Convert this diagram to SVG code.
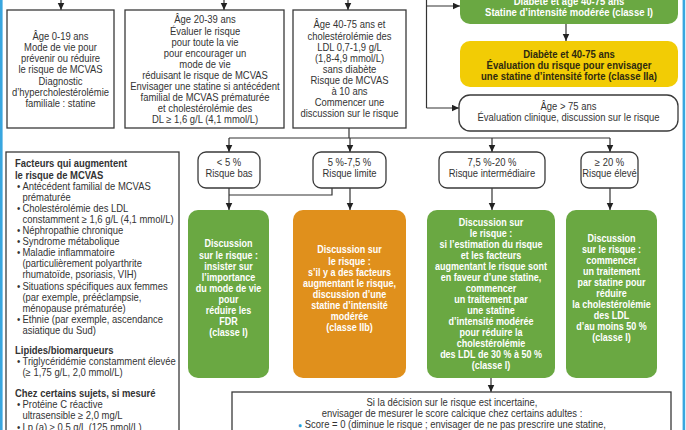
<svg xmlns="http://www.w3.org/2000/svg" width="686" height="430" viewBox="0 0 686 430">
<defs>
<style>
.box{fill:#fff;stroke:#3a3a3a;stroke-width:1.3}
.rbox{fill:#fff;stroke:#3a3a3a;stroke-width:1.3}
.green{fill:#6aa842}
.orange{fill:#e0901c}
.yellow{fill:#f2cc05}
.t{font-family:"Liberation Sans",Arial,sans-serif;font-size:10.5px;fill:#333;text-anchor:middle}
.hb{font-weight:bold}
.w{font-family:"Liberation Sans",Arial,sans-serif;font-size:10px;font-weight:bold;fill:#fff;text-anchor:middle}
.wt{font-family:"Liberation Sans",Arial,sans-serif;font-size:10.6px;font-weight:bold;fill:#fff;text-anchor:middle}
.yt{font-family:"Liberation Sans",Arial,sans-serif;font-size:10.6px;font-weight:bold;fill:#2e2a10;text-anchor:middle}
.l{font-family:"Liberation Sans",Arial,sans-serif;font-size:10.5px;fill:#333;text-anchor:start}
.con{fill:none;stroke:#333;stroke-width:1.2}
.arr{fill:none;stroke:#333;stroke-width:1.2;marker-end:url(#ah)}
</style>
<marker id="ah" markerUnits="userSpaceOnUse" markerWidth="8" markerHeight="8" refX="7.5" refY="3.5" orient="auto">
<path d="M0,0 L7.5,3.5 L0,7 z" fill="#222"/>
</marker>
</defs>
<rect x="0" y="0" width="686" height="430" fill="#fff"/>
<rect x="0" y="0" width="2.6" height="430" fill="#39a6df"/>
<rect x="682.6" y="0" width="2.6" height="430" fill="#39a6df"/>

<g id="connectors">
<path class="arr" d="M61,0 V10"/>
<path class="arr" d="M224,0 V10"/>
<path class="arr" d="M348,0 V10"/>
<path class="con" d="M426.5,0 V108"/>
<path class="arr" d="M426.5,6 H460"/>
<path class="arr" d="M426.5,108 H459"/>
<path class="arr" d="M566,24 V41"/>
<path class="con" d="M349,128 V138 M229,138 H610"/>
<path class="arr" d="M229,138 V152"/>
<path class="arr" d="M350,138 V152"/>
<path class="arr" d="M492,138 V152"/>
<path class="arr" d="M610,138 V152"/>
<path class="con" d="M332,188 V195 H229"/>
<path class="arr" d="M229,188 V210"/>
<path class="arr" d="M350,188 V210"/>
<path class="arr" d="M492,188 V210"/>
<path class="arr" d="M610,188 V210"/>
<path class="arr" d="M491,378 V392"/>
</g>

<g id="age0-19">
<rect class="box" x="7" y="10" width="107" height="118"/>
<g transform="translate(60.5,0) scale(0.9,1)">
<text class="t" x="0" y="40.2">Âge 0-19 ans</text>
<text class="t" x="0" y="51.3">Mode de vie pour</text>
<text class="t" x="0" y="62.4">prévenir ou réduire</text>
<text class="t" x="0" y="73.5">le risque de MCVAS</text>
<text class="t" x="0" y="84.6">Diagnostic</text>
<text class="t" x="0" y="95.7">d’hypercholestérolémie</text>
<text class="t" x="0" y="106.8">familiale : statine</text>
</g>
</g>

<g id="age20-39">
<rect class="box" x="125" y="10" width="159" height="118"/>
<g transform="translate(205,0) scale(0.9,1)">
<text class="t" x="0" y="23.5">Âge 20-39 ans</text>
<text class="t" x="0" y="34.6">Évaluer le risque</text>
<text class="t" x="0" y="45.7">pour toute la vie</text>
<text class="t" x="0" y="56.8">pour encourager un</text>
<text class="t" x="0" y="67.9">mode de vie</text>
<text class="t" x="0" y="79">réduisant le risque de MCVAS</text>
<text class="t" x="0" y="90.1">Envisager une statine si antécédent</text>
<text class="t" x="0" y="101.2">familial de MCVAS prématurée</text>
<text class="t" x="0" y="112.3">et cholestérolémie des</text>
<text class="t" x="0" y="123.2">DL ≥ 1,6 g/L (4,1 mmol/L)</text>
</g>
</g>

<g id="age40-75">
<rect class="box" x="293" y="10" width="113" height="118"/>
<g transform="translate(349.5,0) scale(0.9,1)">
<text class="t" x="0" y="28.5">Âge 40-75 ans et</text>
<text class="t" x="0" y="39.6">cholestérolémie des</text>
<text class="t" x="0" y="50.7">LDL 0,7-1,9 g/L</text>
<text class="t" x="0" y="61.8">(1,8-4,9 mmol/L)</text>
<text class="t" x="0" y="72.9">sans diabète</text>
<text class="t" x="0" y="84">Risque de MCVAS</text>
<text class="t" x="0" y="95.1">à 10 ans</text>
<text class="t" x="0" y="106.2">Commencer une</text>
<text class="t" x="0" y="117.3">discussion sur le risque</text>
</g>
</g>

<g id="diabete-moderee">
<rect class="green" x="460" y="-20" width="218" height="44" rx="10"/>
<g transform="translate(569,0) scale(0.9,1)">
<text class="wt" x="0" y="5">Diabète et âge 40-75 ans</text>
<text class="wt" x="0" y="16">Statine d’intensité modérée (classe I)</text>
</g>
</g>

<g id="diabete-forte">
<rect class="yellow" x="460" y="41" width="218" height="46" rx="10"/>
<g transform="translate(569,0) scale(0.9,1)">
<text class="yt" x="0" y="58.5">Diabète et 40-75 ans</text>
<text class="yt" x="0" y="69.3">Évaluation du risque pour envisager</text>
<text class="yt" x="0" y="80">une statine d’intensité forte (classe IIa)</text>
</g>
</g>

<g id="age75">
<rect class="rbox" x="459" y="95" width="219" height="36" rx="11"/>
<g transform="translate(568.5,0) scale(0.9,1)">
<text class="t" x="0" y="110.5">Âge &gt; 75 ans</text>
<text class="t" x="0" y="121.5">Évaluation clinique, discussion sur le risque</text>
</g>
</g>

<g id="risque-bas">
<rect class="rbox" x="198" y="152" width="62" height="36" rx="8"/>
<g transform="translate(229,0) scale(0.9,1)">
<text class="t" x="0" y="166.5">&lt; 5 %</text>
<text class="t" x="0" y="177.5">Risque bas</text>
</g>
</g>

<g id="risque-limite">
<rect class="rbox" x="313" y="152" width="73" height="36" rx="8"/>
<g transform="translate(349.5,0) scale(0.9,1)">
<text class="t" x="0" y="166.5">5 %-7,5 %</text>
<text class="t" x="0" y="177.5">Risque limite</text>
</g>
</g>

<g id="risque-intermediaire">
<rect class="rbox" x="439" y="152" width="106" height="36" rx="8"/>
<g transform="translate(492,0) scale(0.9,1)">
<text class="t" x="0" y="166.5">7,5 %-20 %</text>
<text class="t" x="0" y="177.5">Risque intermédiaire</text>
</g>
</g>

<g id="risque-eleve">
<rect class="rbox" x="581" y="152" width="57" height="36" rx="8"/>
<g transform="translate(609.5,0) scale(0.9,1)">
<text class="t" x="0" y="166.5">≥ 20 %</text>
<text class="t" x="0" y="177.5">Risque élevé</text>
</g>
</g>

<g id="discussion-bas">
<rect class="green" x="188" y="210" width="81" height="168" rx="10"/>
<g transform="translate(228.5,0) scale(0.9,1)">
<text class="w" x="0" y="247.5">Discussion</text>
<text class="w" x="0" y="258.6">sur le risque :</text>
<text class="w" x="0" y="269.7">insister sur</text>
<text class="w" x="0" y="280.8">l’importance</text>
<text class="w" x="0" y="291.9">du mode de vie</text>
<text class="w" x="0" y="303">pour</text>
<text class="w" x="0" y="314.1">réduire les</text>
<text class="w" x="0" y="325.2">FDR</text>
<text class="w" x="0" y="336.3">(classe I)</text>
</g>
</g>

<g id="discussion-limite">
<rect class="orange" x="293" y="210" width="113" height="168" rx="10"/>
<g transform="translate(349.5,0) scale(0.9,1)">
<text class="w" x="0" y="253.5">Discussion sur</text>
<text class="w" x="0" y="264.6">le risque :</text>
<text class="w" x="0" y="275.7">s’il y a des facteurs</text>
<text class="w" x="0" y="286.8">augmentant le risque,</text>
<text class="w" x="0" y="297.9">discussion d’une</text>
<text class="w" x="0" y="309">statine d’intensité</text>
<text class="w" x="0" y="320.1">modérée</text>
<text class="w" x="0" y="331.2">(classe IIb)</text>
</g>
</g>

<g id="discussion-intermediaire">
<rect class="green" x="427" y="210" width="128" height="168" rx="10"/>
<g transform="translate(491,0) scale(0.9,1)">
<text class="w" x="0" y="226.5">Discussion sur</text>
<text class="w" x="0" y="237.5">le risque :</text>
<text class="w" x="0" y="248.5">si l’estimation du risque</text>
<text class="w" x="0" y="259.5">et les facteurs</text>
<text class="w" x="0" y="270.5">augmentant le risque sont</text>
<text class="w" x="0" y="281.5">en faveur d’une statine,</text>
<text class="w" x="0" y="292.5">commencer</text>
<text class="w" x="0" y="303.5">un traitement par</text>
<text class="w" x="0" y="314.5">une statine</text>
<text class="w" x="0" y="325.5">d’intensité modérée</text>
<text class="w" x="0" y="336.5">pour réduire la</text>
<text class="w" x="0" y="347.5">cholestérolémie</text>
<text class="w" x="0" y="358.5">des LDL de 30 % à 50 %</text>
<text class="w" x="0" y="369.5">(classe I)</text>
</g>
</g>

<g id="discussion-eleve">
<rect class="green" x="566" y="210" width="91" height="168" rx="10"/>
<g transform="translate(611.5,0) scale(0.9,1)">
<text class="w" x="0" y="242.5">Discussion</text>
<text class="w" x="0" y="253.5">sur le risque :</text>
<text class="w" x="0" y="264.5">commencer</text>
<text class="w" x="0" y="275.5">un traitement</text>
<text class="w" x="0" y="286.5">par statine pour</text>
<text class="w" x="0" y="297.5">réduire</text>
<text class="w" x="0" y="308.5">la cholestérolémie</text>
<text class="w" x="0" y="319.5">des LDL</text>
<text class="w" x="0" y="330.5">d’au moins 50 %</text>
<text class="w" x="0" y="341.5">(classe I)</text>
</g>
</g>

<g id="facteurs">
<rect class="box" x="6" y="152" width="173" height="300"/>
<g transform="translate(15,0) scale(0.9,1)">
<text class="l hb" x="0" y="167.5">Facteurs qui augmentent</text>
<text class="l hb" x="0" y="178.6">le risque de MCVAS</text>
<text class="l" x="2.2" y="189.7">•</text><text class="l" x="8.3" y="189.7">Antécédent familial de MCVAS</text>
<text class="l" x="8.3" y="200.8">prématurée</text>
<text class="l" x="2.2" y="211.9">•</text><text class="l" x="8.3" y="211.9">Cholestérolémie des LDL</text>
<text class="l" x="8.3" y="223">constamment ≥ 1,6 g/L (4,1 mmol/L)</text>
<text class="l" x="2.2" y="234.1">•</text><text class="l" x="8.3" y="234.1">Néphropathie chronique</text>
<text class="l" x="2.2" y="245.2">•</text><text class="l" x="8.3" y="245.2">Syndrome métabolique</text>
<text class="l" x="2.2" y="256.3">•</text><text class="l" x="8.3" y="256.3">Maladie inflammatoire</text>
<text class="l" x="8.3" y="267.4">(particulièrement polyarthrite</text>
<text class="l" x="8.3" y="278.5">rhumatoïde, psoriasis, VIH)</text>
<text class="l" x="2.2" y="289.6">•</text><text class="l" x="8.3" y="289.6">Situations spécifiques aux femmes</text>
<text class="l" x="8.3" y="300.7">(par exemple, prééclampsie,</text>
<text class="l" x="8.3" y="311.8">ménopause prématurée)</text>
<text class="l" x="2.2" y="322.9">•</text><text class="l" x="8.3" y="322.9">Ethnie (par exemple, ascendance</text>
<text class="l" x="8.3" y="334">asiatique du Sud)</text>
<text class="l hb" x="0" y="354.3">Lipides/biomarqueurs</text>
<text class="l" x="2.2" y="365.4">•</text><text class="l" x="8.3" y="365.4">Triglycéridémie constamment élevée</text>
<text class="l" x="8.3" y="376.5">(≥ 1,75 g/L, 2,0 mmol/L)</text>
<text class="l hb" x="0" y="397">Chez certains sujets, si mesuré</text>
<text class="l" x="2.2" y="408.4">•</text><text class="l" x="8.3" y="408.4">Protéine C réactive</text>
<text class="l" x="8.3" y="419.5">ultrasensible ≥ 2,0 mg/L</text>
<text class="l" x="2.2" y="430.6">•</text><text class="l" x="8.3" y="430.6">Lp (a) ≥ 0,5 g/L (125 nmol/L)</text>
</g>
</g>

<g id="score-calcique">
<rect class="box" x="232" y="392" width="439" height="60"/>
<g transform="translate(452,0) scale(0.9,1)">
<text class="t" x="0" y="406.5">Si la décision sur le risque est incertaine,</text>
<text class="t" x="0" y="417.2">envisager de mesurer le score calcique chez certains adultes :</text>
<text class="t" x="0" y="427.8"><tspan fill="#2b9ad6" font-size="7.5">●</tspan> Score = 0 (diminue le risque ; envisager de ne pas prescrire une statine,</text>
</g>
</g>
</svg>
